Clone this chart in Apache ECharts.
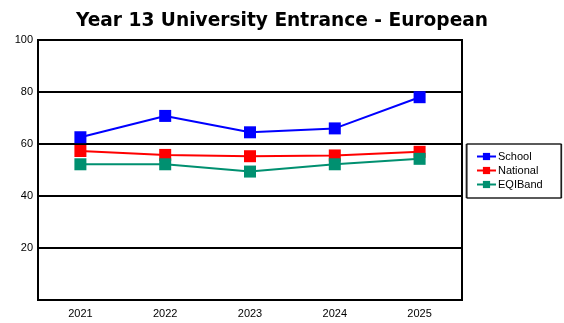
<!DOCTYPE html>
<html><head><meta charset="utf-8">
<script src="https://cdn.jsdelivr.net/npm/echarts@6/dist/echarts.min.js"></script>
<style>html,body{margin:0;padding:0;background:#fff}#c{width:564px;height:323px}</style>
</head><body><div id="c"></div>
<script>
var categories = ['2021','2022','2023','2024','2025'];
var school = [62.6, 70.8, 64.5, 66.0, 78.0];
var national = [57.3, 55.8, 55.3, 55.6, 57.0];
var eqiBand = [52.2, 52.2, 49.4, 52.2, 54.3];
var yTicks = [0, 20, 40, 60, 80, 100];

var chart = echarts.init(document.getElementById('c'));
function mk(name, data, color){
  return {name:name, type:'line', data:data, symbol:'rect', symbolSize:12,
    itemStyle:{color:color}, lineStyle:{color:color, width:2}, animation:false};
}
chart.setOption({
  animation:false,
  title:{text:'Year 13 University Entrance - European', left:'center', top:7,
    textStyle:{fontFamily:'DejaVu Sans', fontWeight:'bold', fontSize:18.6, color:'#000'}},
  grid:{left:38, right:102, top:40, bottom:23, show:true, borderColor:'#000', borderWidth:2, backgroundColor:'#fff'},
  legend:{orient:'vertical', left:467, top:144, data:['School','National','EQIBand'],
    backgroundColor:'#fff', borderColor:'#000', borderWidth:1, padding:[7,19,8,9], itemGap:3,
    itemWidth:19, itemHeight:9,
    shadowColor:'rgba(0,0,0,0.6)', shadowOffsetX:-1, shadowBlur:0,
    textStyle:{fontFamily:'Liberation Sans, Arial', fontSize:11, color:'#000', padding:[0,0,0,-3]}},
  xAxis:{type:'category', data:categories, boundaryGap:true,
    axisLine:{show:true, lineStyle:{color:'#000', width:2}}, axisTick:{show:false},
    axisLabel:{fontFamily:'Liberation Sans, Arial', fontSize:11, color:'#000', margin:8}},
  yAxis:{type:'value', min:yTicks[0], max:yTicks[yTicks.length-1], interval:20,
    axisLine:{show:true, lineStyle:{color:'#000', width:2}}, axisTick:{show:false},
    splitLine:{show:true, lineStyle:{color:'#000', width:2}},
    axisLabel:{fontFamily:'Liberation Sans, Arial', fontSize:11, color:'#000', margin:5,
      formatter:function(v){return v===0?'':String(v);}}},
  series:[mk('School', school, '#0000ff'), mk('National', national, '#ff0000'), mk('EQIBand', eqiBand, '#009070')]
});
</script></body></html>
